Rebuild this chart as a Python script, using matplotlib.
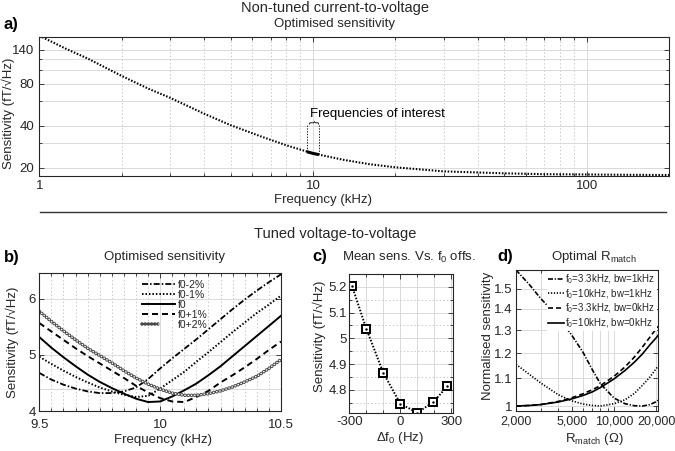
import numpy as np
import matplotlib
matplotlib.use('Agg')
import matplotlib.pyplot as plt
from matplotlib.lines import Line2D
from matplotlib.ticker import NullFormatter, NullLocator, MultipleLocator
from matplotlib.legend_handler import HandlerTuple

plt.rcParams['font.family'] = ['Liberation Sans', 'DejaVu Sans']
plt.rcParams['mathtext.fontset'] = 'custom'
plt.rcParams['mathtext.rm'] = 'Liberation Sans'
plt.rcParams['mathtext.it'] = 'Liberation Sans:italic'
plt.rcParams['mathtext.bf'] = 'Liberation Sans:bold'
plt.rcParams['mathtext.default'] = 'regular'
plt.rcParams['lines.scale_dashes'] = False

# ---------------- data ----------------
# panel a: non-tuned current-to-voltage
freq_a = [1, 1.25, 1.5, 2, 2.5, 3, 4, 5, 6.5, 8, 10, 13, 16, 20, 30, 50, 70, 100, 150, 200]
sens_a = [176, 142, 121, 90.8, 73.7, 63.5, 48.8, 40.4, 33.4, 29.0, 25.4, 22.8, 21.3, 20.2,
          18.9, 18.3, 18.05, 17.95, 17.85, 17.8]
interest_f = [9.5, 10, 10.5]
interest_s = [26.1, 25.4, 24.9]
a_xticks = [1, 10, 100]
a_xticklabels = ['1', '10', '100']
a_yticks = [20, 40, 80, 140]
a_yticklabels = ['20', '40', '80', '140']

# panel b: tuned, optimised sensitivity
freq_b = [9.50, 9.55, 9.60, 9.65, 9.70, 9.75, 9.80, 9.85, 9.90, 9.95, 10.00,
          10.05, 10.10, 10.15, 10.20, 10.25, 10.30, 10.35, 10.40, 10.45, 10.50]
sens_m2 = [4.68, 4.56, 4.47, 4.40, 4.35, 4.32, 4.32, 4.35, 4.42, 4.57, 4.76,
           4.94, 5.11, 5.28, 5.46, 5.64, 5.82, 5.99, 6.15, 6.30, 6.44]
sens_m1 = [4.97, 4.84, 4.72, 4.61, 4.51, 4.42, 4.35, 4.29, 4.25, 4.27, 4.40,
           4.55, 4.70, 4.88, 5.05, 5.23, 5.41, 5.58, 5.75, 5.90, 6.06]
sens_0 = [5.32, 5.13, 4.96, 4.80, 4.65, 4.52, 4.41, 4.31, 4.22, 4.16, 4.17,
          4.26, 4.37, 4.49, 4.64, 4.80, 4.98, 5.16, 5.34, 5.52, 5.70]
sens_p1 = [5.57, 5.42, 5.27, 5.12, 4.98, 4.85, 4.72, 4.59, 4.45, 4.33, 4.23,
           4.17, 4.16, 4.25, 4.36, 4.51, 4.64, 4.78, 4.93, 5.09, 5.24]
sens_p2 = [5.78, 5.60, 5.43, 5.27, 5.12, 4.99, 4.86, 4.72, 4.59, 4.48, 4.39,
           4.32, 4.28, 4.28, 4.31, 4.36, 4.43, 4.52, 4.62, 4.76, 4.92]
b_labels = ['f0-2%', 'f0-1%', 'f0', 'f0+1%', 'f0+2%']

# panel c: mean sensitivity vs f0 offset
offset_c = [-285, -200, -100, 0, 100, 195, 275]
mean_c = [5.205, 5.037, 4.866, 4.746, 4.711, 4.753, 4.813]

# panel d: optimal R_match
r_match = [2000, 2500, 3000, 4000, 5000, 6000, 7000, 8000, 10000, 12000, 14000,
           16000, 18000, 20000, 20600]
d_33_bw1 = [1.60, 1.52, 1.45, 1.36, 1.277, 1.205, 1.134, 1.08, 1.028, 1.008, 1.001,
            1.000, 1.005, 1.015, 1.02]
d_10_bw1 = [1.155, 1.115, 1.083, 1.040, 1.018, 1.007, 1.002, 1.000, 1.008, 1.022, 1.045,
            1.075, 1.105, 1.138, 1.148]
d_33_bw0 = [1.000, 1.002, 1.005, 1.016, 1.029, 1.043, 1.058, 1.073, 1.108, 1.145, 1.185,
            1.227, 1.268, 1.306, 1.317]
d_10_bw0 = [1.000, 1.002, 1.005, 1.014, 1.025, 1.037, 1.050, 1.066, 1.098, 1.131, 1.164,
            1.198, 1.235, 1.266, 1.276]
d_labels = ['f$_0$=3.3kHz, bw=1kHz', 'f$_0$=10kHz, bw=1kHz',
            'f$_0$=3.3kHz, bw=0kHz', 'f$_0$=10kHz, bw=0kHz']

# ---------------- layout / style ----------------
W, H = 675, 451
fig = plt.figure(figsize=(W / 100, H / 100), dpi=100)

TXT = '#262626'
GRID = '#dadada'
GRIDM = '#c8c8c8'
DASH = (0, (4.3, 2.9))
DOT = (0, (1.1, 1.4))
DASHDOT = (0, (4.3, 1.5, 1.1, 1.5))
MDOT = (0, (1, 1.6))

FS = 9.5      # axis labels / subtitles
FT = 9.5      # tick labels
FTITLE = 10.5
FLEGB = 7.5
FLEGD = 7


def rect(l, t, r, b):
    return [l / W, 1 - b / H, (r - l) / W, (b - t) / H]


def ftext(x, y, s, **kw):
    kw.setdefault('ha', 'center')
    kw.setdefault('va', 'center')
    kw.setdefault('color', TXT)
    fig.text(x / W, 1 - y / H, s, **kw)


def style(ax, xpad, ypad):
    ax.set_axisbelow(True)
    ax.tick_params(which='both', direction='in', top=True, right=True, color=TXT,
                   labelcolor=TXT, labelsize=FT, width=0.6)
    ax.tick_params(which='major', length=3.5)
    ax.tick_params(which='minor', length=2)
    ax.tick_params(axis='x', which='both', pad=xpad)
    ax.tick_params(axis='y', which='both', pad=ypad)
    for s in ax.spines.values():
        s.set_color(TXT)
        s.set_linewidth(0.8)


# ---------------- panel a ----------------
axA = fig.add_axes(rect(39.3, 36.7, 669, 175.7))
axA.set_xscale('log')
axA.set_yscale('log')
axA.set_xlim(1, 200)
axA.set_ylim(17.6, 173)
axA.set_xticks(a_xticks, a_xticklabels)
axA.xaxis.set_minor_formatter(NullFormatter())
axA.set_yticks(a_yticks, a_yticklabels)
axA.set_yticks([30, 60, 100, 120], minor=True)
axA.yaxis.set_minor_formatter(NullFormatter())
style(axA, 2.8, 3.6)
axA.grid(which='major', color=GRID, lw=0.7, ls='-')
axA.grid(which='minor', axis='y', color=GRID, lw=0.7, ls='-')
axA.grid(which='minor', axis='x', color=GRIDM, lw=0.7, ls=MDOT)

axA.plot(freq_a, sens_a, color='k', lw=1.5, ls=(0, (1.1, 1.2)))
axA.plot(interest_f, interest_s, color='k', lw=2.2, solid_capstyle='butt')
brace_y = 42.6
brace_low = 40.8
fmid = np.sqrt(interest_f[0] * interest_f[-1])
axA.text(fmid, brace_y, '{', rotation=270, ha='center', va='center', fontsize=8,
         color='k')
for fx, fy in ((interest_f[0], interest_s[0]), (interest_f[-1], interest_s[-1])):
    axA.plot([fx, fx], [brace_low, fy], color='k', lw=0.6, ls=(0, (1, 1)))
axA.text(9.78, 48.8, 'Frequencies of interest', fontsize=FS, ha='left', va='center',
         color='k')

ftext(11, 25, 'a)', fontsize=12, fontweight='bold', color='k')
ftext(335, 8, 'Non-tuned current-to-voltage', fontsize=FTITLE)
ftext(335, 24, 'Optimised sensitivity', fontsize=FS)
ftext(323, 194, 'Frequency (kHz)', fontsize=FS, va='top')
ftext(8.5, 113, 'Sensitivity (fT/√Hz)', fontsize=FS, rotation=90)

fig.add_artist(Line2D([40 / W, 666 / W], [1 - 212.3 / H, 1 - 212.3 / H],
                      transform=fig.transFigure, color='#333333', lw=1.0))
ftext(335, 234, 'Tuned voltage-to-voltage', fontsize=FTITLE)

# ---------------- panel b ----------------
axB = fig.add_axes(rect(39.3, 273, 281, 411))
axB.set_xlim(9.5, 10.5)
axB.set_ylim(4.0, 6.464)
axB.set_xticks([9.5, 10, 10.5], ['9.5', '10', '10.5'])
axB.xaxis.set_minor_locator(MultipleLocator(0.05))
axB.set_yticks([4, 5, 6], ['4', '5', '6'])
axB.set_yticks([4.4], minor=True)
style(axB, 6.0, 2.2)
axB.tick_params(axis='y', which='minor', length=0)
axB.grid(which='major', color=GRID, lw=0.7, ls='-')
axB.grid(which='minor', axis='y', color=GRID, lw=0.7, ls='-')
axB.grid(which='minor', axis='x', color=GRIDM, lw=0.7, ls=MDOT)

lb1, = axB.plot(freq_b, sens_m2, color='k', lw=1.3, ls=DASHDOT)
lb2, = axB.plot(freq_b, sens_m1, color='k', lw=1.4, ls=DOT)
lb3, = axB.plot(freq_b, sens_0, color='k', lw=1.4, ls='-')
lb4, = axB.plot(freq_b, sens_p1, color='k', lw=1.4, ls=DASH)
lb5a, = axB.plot(freq_b, sens_p2, color='#4a4a4a', lw=2.6, ls=(0, (0.01, 2.3)),
                 dash_capstyle='round')
lb5b, = axB.plot(freq_b, sens_p2, color='white', lw=1.2, ls=(0, (0.01, 2.3)),
                 dash_capstyle='round')
axB.legend([lb1, lb2, lb3, lb4, (lb5a, lb5b)], b_labels,
           handler_map={tuple: HandlerTuple(ndivide=None, pad=0)},
           loc='upper left', bbox_to_anchor=(142 / W, 1 - 279.5 / H),
           bbox_transform=fig.transFigure, frameon=False, fontsize=FLEGB,
           borderpad=0, borderaxespad=0, handlelength=3.2, handletextpad=0.2,
           labelspacing=0.0, labelcolor=TXT)

ftext(12, 257.5, 'b)', fontsize=12, fontweight='bold', color='k')
ftext(164.5, 257.3, 'Optimised sensitivity', fontsize=FS)
ftext(163, 434, 'Frequency (kHz)', fontsize=FS, va='top')
ftext(12, 342.5, 'Sensitivity (fT/√Hz)', fontsize=FS, rotation=90)

# ---------------- panel c ----------------
axC = fig.add_axes(rect(349, 274, 452.7, 412.5))
axC.set_xlim(-302, 308)
axC.set_ylim(4.712, 5.242)
axC.set_xticks([-300, 0, 300], ['-300', '0', '300'])
axC.set_xticks([-200, -100, 100, 200], minor=True)
axC.set_yticks([4.8, 4.9, 5.0, 5.1, 5.2], ['4.8', '4.9', '5', '5.1', '5.2'])
axC.set_yticks([4.75, 4.85, 4.95, 5.05, 5.15, 5.25], minor=True)
style(axC, 2.8, 1.6)
axC.grid(which='major', color=GRID, lw=0.7, ls='-')
axC.grid(which='minor', axis='x', color=GRID, lw=0.7, ls='-')
axC.grid(which='minor', axis='y', color=GRIDM, lw=0.7, ls=MDOT)

axC.plot(offset_c, mean_c, color='k', lw=1.4, ls=(0, (1.1, 1.2)))
axC.plot(offset_c, mean_c, ls='none', marker='s', ms=5.8, mfc='white', mec='k', mew=1.4)
axC.plot(offset_c, mean_c, ls='none', marker='o', ms=1.4, mfc='k', mec='k', mew=0.3)

ftext(320, 257, 'c)', fontsize=12, fontweight='bold', color='k')
ftext(409, 257, 'Mean sens. Vs. f$_0$ offs.', fontsize=FS)
ftext(400, 430, 'Δf$_0$ (Hz)', fontsize=FS, va='top')
ftext(319, 336.5, 'Sensitivity (fT/√Hz)', fontsize=FS, rotation=90)

# ---------------- panel d ----------------
axD = fig.add_axes(rect(516, 270, 658, 411))
axD.set_xscale('log')
axD.set_yscale('log')
axD.set_xlim(2000, 20600)
axD.set_ylim(0.983, 1.6)
axD.set_xticks([2000, 5000, 10000, 20000], ['2,000', '5,000', '10,000', '20,000'])
axD.set_xticks([3000, 4000, 6000, 7000, 8000, 9000], minor=True)
axD.xaxis.set_minor_formatter(NullFormatter())
axD.set_yticks([1, 1.1, 1.2, 1.3, 1.4, 1.5], ['1', '1.1', '1.2', '1.3', '1.4', '1.5'])
axD.yaxis.set_minor_locator(NullLocator())
style(axD, 3.6, 2.8)
axD.tick_params(axis='x', labelsize=9)
axD.grid(which='major', color=GRID, lw=0.7, ls='-')
axD.grid(which='minor', axis='x', color=GRID, lw=0.7, ls='-')

ld1, = axD.plot(r_match, d_33_bw1, color='k', lw=1.2, ls=(0, (3.6, 1.2, 0.9, 1.2)))
ld2, = axD.plot(r_match, d_10_bw1, color='k', lw=1.2, ls=(0, (0.9, 1.2)))
ld3, = axD.plot(r_match, d_33_bw0, color='k', lw=1.2, ls=(0, (3.6, 2.2)))
ld4, = axD.plot(r_match, d_10_bw0, color='k', lw=1.2, ls='-')
axD.legend([ld1, ld2, ld3, ld4], d_labels, loc='upper right',
           bbox_to_anchor=(1.0, 1.0), frameon=True, fancybox=False,
           facecolor='white', edgecolor='none', framealpha=1.0, fontsize=FLEGD,
           borderpad=0.15, borderaxespad=0.1, handlelength=1.6,
           handletextpad=0.15, labelspacing=0.1, labelcolor=TXT)

ftext(505, 257, 'd)', fontsize=12, fontweight='bold', color='k')
ftext(593.5, 257, 'Optimal R$_{match}$', fontsize=FS)
ftext(594, 431, 'R$_{match}$ (Ω)', fontsize=FS, va='top')
ftext(488, 336, 'Normalised sensitivity', fontsize=FS, rotation=90)

fig.savefig('out.png', dpi=100)
